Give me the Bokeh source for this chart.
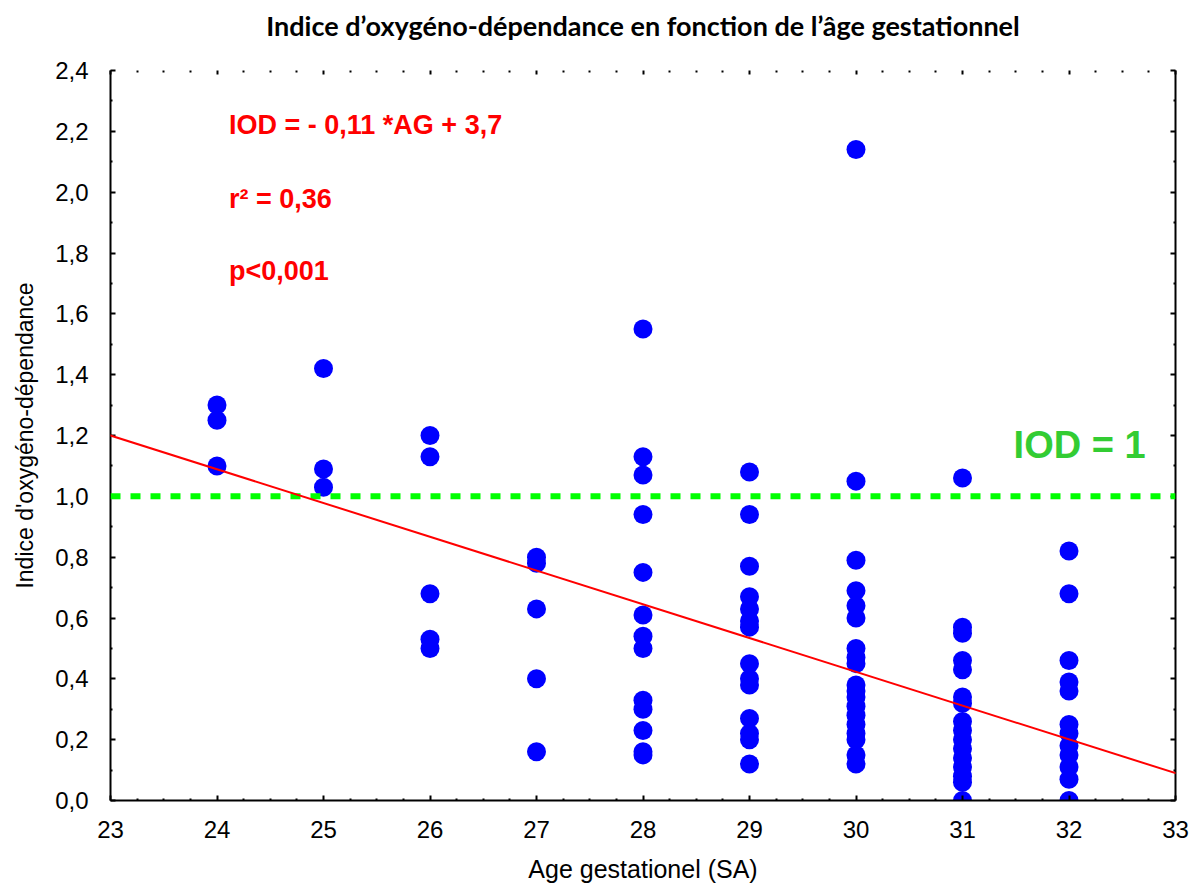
from bokeh.plotting import figure
from bokeh.models import (Range1d, LinearAxis, FixedTicker, CustomJSTickFormatter,
                          Span, Slope, Label, ColumnDataSource)
from bokeh.embed import file_html
from bokeh.resources import INLINE

# ---------------- data ----------------
ages = [24, 25, 26, 27, 28, 29, 30, 31, 32]
iod_24 = [1.30, 1.25, 1.10]
iod_25 = [1.42, 1.09, 1.03]
iod_26 = [1.20, 1.13, 0.68, 0.53, 0.50]
iod_27 = [0.80, 0.78, 0.63, 0.40, 0.16]
iod_28 = [1.55, 1.13, 1.07, 0.94, 0.75, 0.61, 0.54, 0.50, 0.33, 0.30, 0.23, 0.16, 0.15]
iod_29 = [1.08, 0.94, 0.77, 0.67, 0.63, 0.59, 0.57, 0.45, 0.40, 0.38, 0.27, 0.22, 0.20, 0.12]
iod_30 = [2.14, 1.05, 0.79, 0.69, 0.64, 0.60, 0.50, 0.47, 0.45, 0.38, 0.36, 0.34, 0.31,
          0.28, 0.25, 0.22, 0.20, 0.15, 0.12]
iod_31 = [1.06, 0.57, 0.55, 0.46, 0.43, 0.34, 0.32, 0.26, 0.23, 0.20, 0.17, 0.14, 0.11,
          0.08, 0.06, 0.0]
iod_32 = [0.82, 0.68, 0.46, 0.39, 0.36, 0.25, 0.22, 0.18, 0.15, 0.11, 0.07, 0.0]
iod_by_age = [iod_24, iod_25, iod_26, iod_27, iod_28, iod_29, iod_30, iod_31, iod_32]

x_ticks = [23, 24, 25, 26, 27, 28, 29, 30, 31, 32, 33]
y_ticks = [0.0, 0.2, 0.4, 0.6, 0.8, 1.0, 1.2, 1.4, 1.6, 1.8, 2.0, 2.2, 2.4]

fit_slope = -0.111
fit_intercept = 3.753
threshold = 1.0

title_text = "Indice d\u2019oxygéno-dépendance en fonction de l\u2019âge gestationnel"
x_label = "Age gestationel (SA)"
y_label = "Indice d'oxygéno-dépendance"
eq_text = "IOD = - 0,11 *AG + 3,7"
r2_text = "r\u00b2 = 0,36"
p_text = "p<0,001"
thr_text = "IOD = 1"

xs, ys = [], []
for a, vals in zip(ages, iod_by_age):
    for v in vals:
        xs.append(a)
        ys.append(v)
src = ColumnDataSource(dict(x=xs, y=ys))

x_minor = [x_ticks[i] + k * 0.25 for i in range(len(x_ticks) - 1) for k in range(1, 4)]
y_minor = [round(y_ticks[i] + 0.1, 2) for i in range(len(y_ticks) - 1)]

# ---------------- figure ----------------
p = figure(width=1196, height=890, output_backend="svg", toolbar_location=None,
           x_range=Range1d(x_ticks[0], x_ticks[-1]), y_range=Range1d(y_ticks[0], y_ticks[-1]),
           min_border_left=110, min_border_right=21, min_border_top=70, min_border_bottom=90,
           x_axis_type=None, y_axis_type=None)
p.outline_line_color = None
p.xgrid.visible = False
p.ygrid.visible = False
p.background_fill_color = "white"
p.border_fill_color = "white"

# trailing empty line lifts the title away from the frame
p.title.text = title_text + "\n"
p.title.text_font = "Lato"
p.title.text_font_style = "bold"
p.title.text_font_size = "27px"
p.title.text_line_height = 0.85
p.title.align = "center"
p.title.text_color = "black"
p.title.standoff = 0

AX_FONT = "Liberation Sans"
blank_fmt = CustomJSTickFormatter(code="return '';")

def style_axis(ax):
    ax.axis_line_width = 2
    ax.axis_line_color = "black"
    ax.major_tick_in = 5
    ax.major_tick_out = 0
    ax.minor_tick_in = 2
    ax.minor_tick_out = 0
    ax.major_tick_line_width = 2
    ax.minor_tick_line_width = 2
    ax.major_label_text_font = AX_FONT
    ax.major_label_text_font_size = "24px"
    ax.major_label_text_color = "black"
    ax.axis_label_text_font = AX_FONT
    ax.axis_label_text_font_style = "normal"
    ax.axis_label_text_color = "black"

def x_ticker():
    return FixedTicker(ticks=x_ticks, minor_ticks=x_minor)

def y_ticker():
    return FixedTicker(ticks=y_ticks, minor_ticks=y_minor)

y_fmt = CustomJSTickFormatter(code="return tick.toFixed(1).replace('.', ',');")

xb = LinearAxis(ticker=x_ticker(), axis_label=x_label)
style_axis(xb)
xb.major_label_standoff = 20
xb.axis_label_standoff = 14
xb.axis_label_text_font_size = "25px"
p.add_layout(xb, "below")

yl = LinearAxis(ticker=y_ticker(), formatter=y_fmt, axis_label=y_label)
style_axis(yl)
yl.major_label_standoff = 22
yl.axis_label_standoff = 14
yl.axis_label_text_font_size = "23px"
p.add_layout(yl, "left")

xt = LinearAxis(ticker=x_ticker(), formatter=blank_fmt)
style_axis(xt)
xt.axis_line_color = None
xt.major_tick_in = 4
xt.minor_tick_in = 2
xt.major_label_standoff = 0
p.add_layout(xt, "above")

yr = LinearAxis(ticker=y_ticker(), formatter=blank_fmt)
style_axis(yr)
yr.major_label_standoff = 0
p.add_layout(yr, "right")

# threshold line
p.add_layout(Span(location=threshold, dimension="width", line_color="#00FF00",
                  line_width=6, line_dash="10 10"))
# regression line
p.add_layout(Slope(gradient=fit_slope, y_intercept=fit_intercept, line_color="#FF0000",
                   line_width=2))

p.scatter("x", "y", source=src, size=19, marker="circle", fill_color="#0000FF",
          line_color="#0000FF", line_width=0)

red_kw = dict(text_font="Liberation Sans", text_font_style="bold", text_font_size="27px",
              text_color="#FF0000", text_baseline="alphabetic", text_align="left")
p.add_layout(Label(x=24.113, y=2.221, text=eq_text, **red_kw))
p.add_layout(Label(x=24.113, y=1.976, text=r2_text, **red_kw))
p.add_layout(Label(x=24.113, y=1.742, text=p_text, **red_kw))
p.add_layout(Label(x=31.48, y=1.169, text=thr_text, text_font="Liberation Sans",
                   text_font_style="bold", text_font_size="38px", text_color="#33CC33",
                   text_baseline="alphabetic", text_align="left"))

open("out.html", "w").write(file_html(p, INLINE))
